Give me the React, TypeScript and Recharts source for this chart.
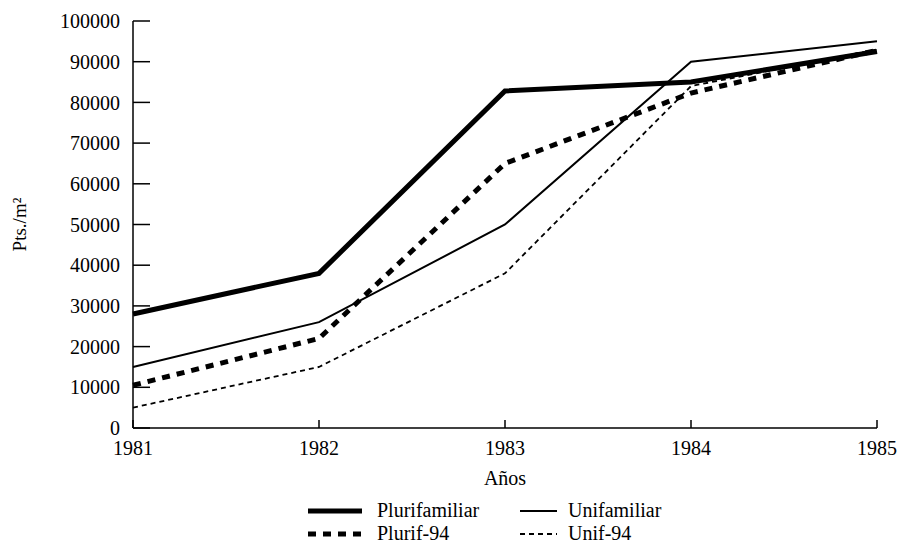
import React from "react";
import { Line, LineChart, XAxis, YAxis, Legend } from "recharts";

// price per m2 by year
const years = [1981, 1982, 1983, 1984, 1985];
const plurifamiliar = [28000, 38000, 82800, 85000, 92500];
const unifamiliar = [15000, 26000, 50000, 90000, 95000];
const plurif94 = [10500, 22000, 65000, 82300, 92800];
const unif94 = [5000, 15000, 38000, 84000, 93000];
const yTicks = [0, 10000, 20000, 30000, 40000, 50000, 60000, 70000, 80000, 90000, 100000];

const FONT = '"Liberation Serif", "Times New Roman", serif';
const INK = "#000";

const SERIES = [
  { key: "plurifamiliar", name: "Plurifamiliar", width: 5, dash: undefined, icon: 54 },
  { key: "unifamiliar", name: "Unifamiliar", width: 2, dash: undefined, icon: 37 },
  { key: "plurif94", name: "Plurif-94", width: 5, dash: "8 7", icon: 54 },
  { key: "unif94", name: "Unif-94", width: 1.8, dash: "5 4", icon: 37 },
];

const data = years.map((year, i) => ({
  year,
  plurifamiliar: plurifamiliar[i],
  unifamiliar: unifamiliar[i],
  plurif94: plurif94[i],
  unif94: unif94[i],
}));

function LegendBox() {
  // two columns: thick series on the left, thin series on the right
  const cols = [
    { left: 308, textLeft: 377, items: [SERIES[0], SERIES[2]] },
    { left: 520, textLeft: 568, items: [SERIES[1], SERIES[3]] },
  ];
  return (
    <div style={{ position: "relative", height: 57, fontFamily: FONT, fontSize: 20, color: INK }}>
      {cols.map((c, ci) =>
        c.items.map((s, ri) => (
          <div
            key={`${ci}-${ri}`}
            style={{ position: "absolute", left: c.left, top: 11 + ri * 23, height: 23, display: "flex", alignItems: "center" }}
          >
            <svg width={s.icon} height={12} style={{ display: "block" }}>
              <line x1={0} y1={6} x2={s.icon} y2={6} stroke={INK} strokeWidth={s.width} strokeDasharray={s.dash} />
            </svg>
            <span style={{ position: "absolute", left: c.textLeft - c.left, whiteSpace: "nowrap", lineHeight: "23px" }}>
              {s.name}
            </span>
          </div>
        ))
      )}
    </div>
  );
}

// rotated y title, centred on the axis height
const yTitle = (props: any) => {
  const vb = props.viewBox || {};
  const cx = 26;
  const cy = vb.y + vb.height / 2;
  return (
    <text
      x={cx}
      y={cy}
      transform={`rotate(-90 ${cx} ${cy})`}
      textAnchor="middle"
      fill={INK}
      fontFamily={FONT}
      fontSize={19}
    >
      Pts./m²
    </text>
  );
};

export default function App() {
  return (
    <div style={{ position: "absolute", left: 0, top: 0, width: 901, height: 545, background: "#fff" }}>
      <LineChart width={901} height={545} data={data} margin={{ top: 21, right: 24, bottom: 0, left: 0 }}>
        <XAxis
          dataKey="year"
          type="number"
          domain={[1981, 1985]}
          ticks={years}
          height={60}
          stroke={INK}
          strokeWidth={1.5}
          tickSize={-8}
          tickMargin={21}
          tick={{ fill: INK, fontFamily: FONT, fontSize: 20 }}
          label={{ value: "Años", position: "insideBottom", offset: 3, fill: INK, fontFamily: FONT, fontSize: 20 }}
        />
        <YAxis
          domain={[0, 100000]}
          ticks={yTicks}
          width={133}
          stroke={INK}
          strokeWidth={1.5}
          tickSize={-17}
          tickMargin={30}
          tick={{ fill: INK, fontFamily: FONT, fontSize: 20 }}
          label={{ content: yTitle }}
        />
        <Legend verticalAlign="bottom" wrapperStyle={{ left: 0, width: 901, height: 57 }} content={() => <LegendBox />} />
        {SERIES.map((s) => (
          <Line
            key={s.key}
            dataKey={s.key}
            name={s.name}
            type="linear"
            stroke={INK}
            strokeWidth={s.width}
            strokeDasharray={s.dash}
            dot={false}
            activeDot={false}
            isAnimationActive={false}
          />
        ))}
      </LineChart>
    </div>
  );
}
